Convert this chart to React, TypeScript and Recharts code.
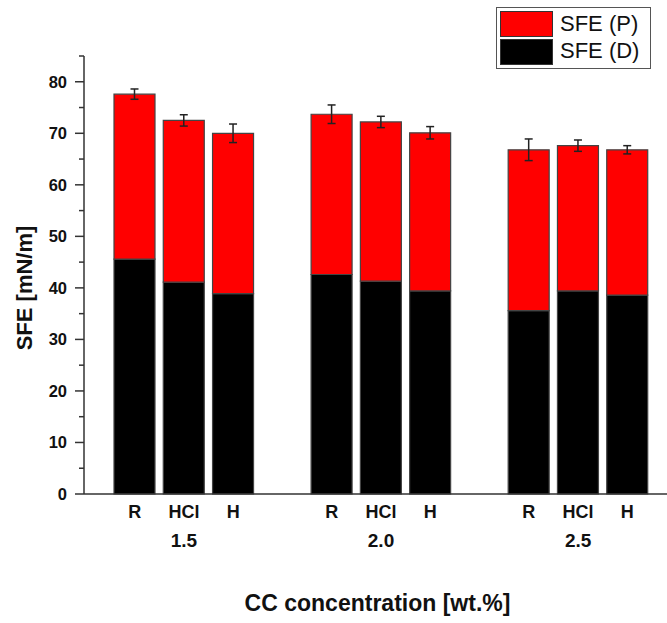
import React from 'react';
import { BarChart, Bar, XAxis, YAxis, ErrorBar, Legend } from 'recharts';

const FONT = "'Liberation Sans', Arial, sans-serif";

const concentrations = ['1.5', '2.0', '2.5'];
const treatments = ['R', 'HCl', 'H'];
// dispersive and polar parts of the surface free energy, mN/m
const sfeD = [45.6, 41.1, 38.9, 42.6, 41.3, 39.4, 35.6, 39.4, 38.6];
const sfeP = [32.0, 31.4, 31.1, 31.1, 30.9, 30.7, 31.2, 28.2, 28.2];
const sfeErr = [1.0, 1.1, 1.8, 1.8, 1.1, 1.2, 2.1, 1.1, 0.8];
const yTicks = [0, 5, 10, 15, 20, 25, 30, 35, 40, 45, 50, 55, 60, 65, 70, 75, 80, 85];

type Row = { slot: string; treatment: string; conc: string; mid: boolean; d?: number; p?: number; err?: number };

// one empty slot between concentration groups
const data: Row[] = [];
concentrations.forEach((conc, g) => {
  if (g > 0) data.push({ slot: `gap-${g}`, treatment: '', conc: '', mid: false });
  treatments.forEach((t, i) => {
    const k = g * treatments.length + i;
    data.push({ slot: `${conc}-${t}`, treatment: t, conc, mid: i === 1, d: sfeD[k], p: sfeP[k], err: sfeErr[k] });
  });
});

const YTick = (props: any) => {
  const { x, y, payload } = props;
  const major = payload.value % 10 === 0;
  return (
    <g>
      <line x1={x - (major ? 9 : 5)} x2={x} y1={y} y2={y} stroke="#333" strokeWidth={1.5} />
      {major && (
        <text x={x - 17} y={y} dy={6} textAnchor="end" fontFamily={FONT} fontWeight="bold" fontSize={16.5} fill="#111">
          {payload.value}
        </text>
      )}
    </g>
  );
};

const XTick = (props: any) => {
  const { x, y, payload } = props;
  const row = data.find((r) => r.slot === payload.value);
  if (!row || !row.treatment) return null;
  return (
    <g fontFamily={FONT} fontWeight="bold" fill="#111" textAnchor="middle">
      <text x={x} y={y + 24} fontSize={18}>{row.treatment}</text>
      {row.mid && <text x={x} y={y + 53} fontSize={19}>{row.conc}</text>}
    </g>
  );
};

const LegendBox = () => {
  const swatch = (top: number, color: string) => (
    <div style={{ position: 'absolute', left: 3, top, width: 51, height: 24, background: color, border: '1.5px solid #333' }} />
  );
  const label = (top: number, text: string) => (
    <div style={{ position: 'absolute', left: 63, top, fontSize: 22, lineHeight: '26px', color: '#111', whiteSpace: 'nowrap' }}>{text}</div>
  );
  return (
    <div style={{ position: 'relative', width: 153, height: 60, border: '1.5px solid #555', background: '#fff', fontFamily: FONT }}>
      {swatch(3, '#ff0000')}
      {label(3, 'SFE (P)')}
      {swatch(31, '#000000')}
      {label(30, 'SFE (D)')}
    </div>
  );
};

export default function App() {
  return (
    <div style={{ position: 'absolute', left: 0, top: 0, background: '#fff' }}>
      <BarChart width={667} height={623} data={data} margin={{ top: 56, right: 0, bottom: 0, left: 0 }}>
        <XAxis
          dataKey="slot"
          height={129}
          interval={0}
          padding={{ left: 26, right: 15 }}
          axisLine={{ stroke: '#333', strokeWidth: 1.5 }}
          tickLine={false}
          tickSize={0}
          tickMargin={0}
          tick={<XTick />}
          label={(p: any) => {
            const vb = p.viewBox;
            return (
              <text x={vb.x + vb.width / 2 + 2} y={vb.y + 117} textAnchor="middle" fontFamily={FONT} fontWeight="bold" fontSize={23} fill="#111">
                CC concentration [wt.%]
              </text>
            );
          }}
        />
        <YAxis
          width={84}
          domain={[0, 85]}
          ticks={yTicks}
          interval={0}
          axisLine={{ stroke: '#333', strokeWidth: 1.5 }}
          tickLine={false}
          tickSize={0}
          tickMargin={0}
          tick={<YTick />}
          label={(p: any) => {
            const vb = p.viewBox;
            const cx = vb.x + 32;
            const cy = vb.y + vb.height / 2 + 13;
            return (
              <text x={cx} y={cy} transform={`rotate(-90 ${cx} ${cy})`} textAnchor="middle" fontFamily={FONT} fontWeight="bold" fontSize={22} fill="#111">
                SFE [mN/m]
              </text>
            );
          }}
        />
        <Legend
          layout="vertical"
          align="center"
          verticalAlign="middle"
          wrapperStyle={{ left: 496, top: 7, width: 'auto', height: 'auto' }}
          content={() => <LegendBox />}
        />
        <Bar dataKey="d" stackId="sfe" fill="#000000" stroke="#444" strokeWidth={1.2} barSize={41} isAnimationActive={false} />
        <Bar dataKey="p" stackId="sfe" fill="#ff0000" stroke="#444" strokeWidth={1.2} barSize={41} isAnimationActive={false}>
          <ErrorBar dataKey="err" width={4} stroke="#222" strokeWidth={1.5} direction="y" />
        </Bar>
      </BarChart>
    </div>
  );
}
